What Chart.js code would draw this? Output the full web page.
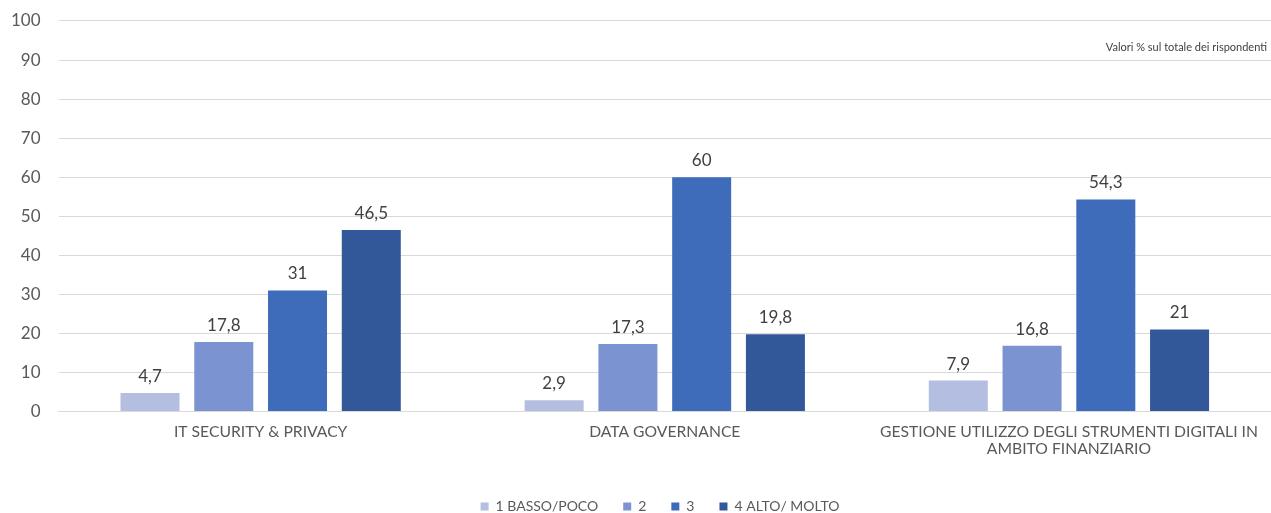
<!DOCTYPE html>
<html>
<head>
<meta charset="utf-8">
<script src="https://cdn.jsdelivr.net/npm/chart.js@4/dist/chart.umd.min.js"></script>
<style>
  html, body { margin: 0; padding: 0; background: #fff; }
  #wrap { width: 1271px; height: 513px; }
</style>
</head>
<body>
<div id="wrap"><canvas id="skillsChart" width="1271" height="513"></canvas></div>
<script>
// categories and series
const categories = [
    'IT SECURITY & PRIVACY',
    'DATA GOVERNANCE',
    ['GESTIONE UTILIZZO DEGLI STRUMENTI DIGITALI IN', 'AMBITO FINANZIARIO']
];
const seriesNames = ['1 BASSO/POCO', '2', '3', '4 ALTO/ MOLTO'];
const basso = [4.7, 2.9, 7.9];
const due = [17.8, 17.3, 16.8];
const tre = [31, 60, 54.3];
const alto = [46.5, 19.8, 21];
const seriesColors = ['#B4BEE0', '#7B93D0', '#3F6BBB', '#325899'];
const note = 'Valori % sul totale dei rispondenti';

const FONT = "Lato, 'Open Sans', sans-serif";
const LEGEND_PAD = 25;
const LEGEND_FONT = 14;

// value labels above each bar, decimal comma
const valueLabels = {
    id: 'valueLabels',
    afterDatasetsDraw(chart) {
        const ctx = chart.ctx;
        ctx.save();
        ctx.font = '17px ' + FONT;
        ctx.fillStyle = '#404040';
        ctx.textAlign = 'center';
        ctx.textBaseline = 'alphabetic';
        chart.data.datasets.forEach((ds, i) => {
            chart.getDatasetMeta(i).data.forEach((bar, j) => {
                const txt = String(ds.data[j]).replace('.', ',');
                ctx.fillText(txt, bar.x, bar.y - 11);
            });
        });
        ctx.restore();
    }
};

// small note at the top right of the plot
const cornerNote = {
    id: 'cornerNote',
    afterDraw(chart) {
        const ctx = chart.ctx;
        ctx.save();
        ctx.font = '11px ' + FONT;
        ctx.fillStyle = '#404040';
        ctx.textAlign = 'right';
        ctx.textBaseline = 'middle';
        ctx.fillText(note, chart.chartArea.right - 4, 47);
        ctx.restore();
    }
};

// push the legend row down near the bottom edge, a bit right of centre
const legendDown = {
    id: 'legendDown',
    afterLayout(chart) {
        const lg = chart.legend;
        if (!lg) return;
        const itemH = LEGEND_FONT * 1.2;
        const newTop = 508 - LEGEND_PAD - itemH / 2;
        lg.bottom += newTop - lg.top;
        lg.top = newTop;
        lg.left += 28;
        lg.right += 28;
    }
};

const ctx = document.getElementById('skillsChart').getContext('2d');
new Chart(ctx, {
    type: 'bar',
    data: {
        labels: categories,
        datasets: [basso, due, tre, alto].map((d, i) => ({
            label: seriesNames[i],
            data: d,
            backgroundColor: seriesColors[i],
            categoryPercentage: 0.73,
            barPercentage: 0.8
        }))
    },
    options: {
        responsive: false,
        animation: false,
        layout: { padding: { top: 0, right: 0, left: -7, bottom: 0 } },
        scales: {
            y: {
                min: 0,
                max: 100,
                // small lineHeight keeps the top label from adding extra space above the plot
                ticks: { stepSize: 10, color: '#595959', font: { family: FONT, size: 17, lineHeight: 0.35 }, padding: 18 },
                grid: { color: '#D9D9D9', drawTicks: false },
                border: { display: false }
            },
            x: {
                ticks: { color: '#595959', font: { family: FONT, size: 15.7, lineHeight: 1.1 }, padding: 4 },
                grid: { display: false },
                border: { color: '#D9D9D9' },
                // extra room between the category names and the legend
                afterFit(scale) { scale.height += 2; }
            }
        },
        plugins: {
            legend: {
                position: 'bottom',
                labels: {
                    color: '#595959',
                    font: { family: FONT, size: LEGEND_FONT },
                    boxWidth: 8,
                    boxHeight: 8,
                    padding: LEGEND_PAD
                }
            },
            tooltip: { enabled: false }
        }
    },
    plugins: [valueLabels, cornerNote, legendDown]
});
</script>
</body>
</html>
